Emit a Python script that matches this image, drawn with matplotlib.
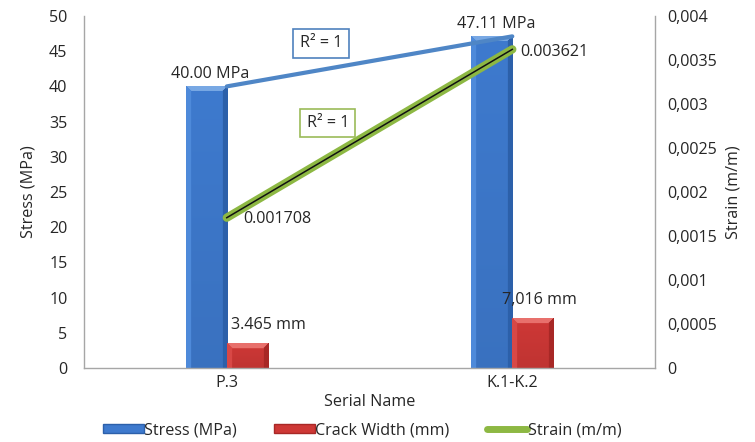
import numpy as np
import matplotlib
matplotlib.use("Agg")
import matplotlib.pyplot as plt
from matplotlib.patches import Patch
from matplotlib.lines import Line2D
from matplotlib.ticker import FuncFormatter, MultipleLocator

# Data
categories = ["P.3", "K.1-K.2"]
stress_mpa = [40.00, 47.11]
crack_width_mm = [3.465, 7.016]
strain = [0.001708, 0.003621]
stress_labels = ["40.00 MPa", "47.11 MPa"]
crack_labels = ["3.465 mm", "7,016 mm"]
strain_labels = ["0.001708", "0.003621"]

plt.rcParams["font.family"] = ["Open Sans", "DejaVu Sans"]
FS = 11.6
TXT = "#262626"
AX = "#A6A6A6"

fig = plt.figure(figsize=(7.55, 4.42), dpi=100)
ax = fig.add_axes([0.1113, 0.1674, 0.7563, 0.7964])
ax2 = ax.twinx()

x = np.arange(len(categories))
w = 0.144

BLUE = dict(base=(62, 122, 206), top=(120, 168, 228), left=(78, 138, 218), right=(44, 96, 170))
RED = dict(base=(206, 56, 54), top=(232, 112, 108), left=(216, 72, 70), right=(168, 40, 38))

blue_bars = ax.bar(x - w / 2, stress_mpa, w, color="#3E7ACE", zorder=2)
red_bars = ax.bar(x + w / 2, crack_width_mm, w, color="#CE3836", zorder=2)

ax.set_xlim(-0.5, 1.5)
ax.set_ylim(0, 50)


def bevel_image(wpx, hpx, pal, bev=5):
    """RGB image of a bar face with a bevelled top, lit left and shaded right."""
    img = np.empty((hpx, wpx, 3), dtype=float)
    img[:] = pal["base"]
    ii, jj = np.mgrid[0:hpx, 0:wpx]
    dl, dr, dt = jj, wpx - 1 - jj, ii
    left = (dl < bev) & (dl <= dt)
    right = (dr < bev) & (dr <= dt)
    top = (dt < bev) & (dt < dl) & (dt < dr)
    img[left] = pal["left"]
    img[right] = pal["right"]
    img[top] = pal["top"]
    face = ~(left | right | top)
    shade = np.broadcast_to(np.linspace(1.0, 0.93, hpx)[:, None], (hpx, wpx))
    img[face] *= shade[face][:, None]
    return np.clip(img / 255.0, 0, 1)


for bars, pal in ((blue_bars, BLUE), (red_bars, RED)):
    for p in bars:
        x0, y0 = p.get_x(), p.get_y()
        x1, y1 = x0 + p.get_width(), y0 + p.get_height()
        (px0, py0), (px1, py1) = ax.transData.transform([(x0, y0), (x1, y1)])
        wpx = max(int(round(px1 - px0)), 2)
        hpx = max(int(round(py1 - py0)), 2)
        ax.imshow(bevel_image(wpx, hpx, pal), aspect="auto", zorder=2.1,
                  extent=(x0, x1, y0, y1), origin="upper", interpolation="bilinear")
ax.set_xlim(-0.5, 1.5)
ax.set_ylim(0, 50)

# Stress trend line across category centres
ax.plot(x, stress_mpa, color="#4F86C6", lw=3, zorder=3, solid_capstyle="round")

ax.yaxis.set_major_locator(MultipleLocator(5))
ax.set_xticks(x)
ax.set_xticklabels(categories)

# Strain on secondary axis
ax2.plot(x, strain, color="#8DB843", lw=6, zorder=4, solid_capstyle="round")
ax2.plot(x, strain, color="#111111", lw=1.1, zorder=5)
ax2.set_ylim(0, 0.004)
ax2.yaxis.set_major_locator(MultipleLocator(0.0005))
ax2.yaxis.set_major_formatter(FuncFormatter(
    lambda v, _: "0" if abs(v) < 1e-12 else f"{v:.4f}".rstrip("0").replace(".", ",")))

for a in (ax, ax2):
    a.spines["top"].set_visible(False)
    for s in ("left", "right", "bottom"):
        a.spines[s].set_color(AX)
        a.spines[s].set_linewidth(1.0)
    a.tick_params(length=0, colors=TXT, labelsize=FS)
    a.set_facecolor("none")
ax.spines["right"].set_visible(False)
ax2.spines["left"].set_visible(False)
ax2.spines["bottom"].set_visible(False)
ax.tick_params(axis="y", pad=12)
ax.tick_params(axis="x", pad=5)
ax2.tick_params(axis="y", pad=9)

ax.set_ylabel("Stress (MPa)", fontsize=FS, color=TXT, labelpad=9)
ax2.set_ylabel("Strain (m/m)", fontsize=FS, color=TXT, labelpad=6)
ax.set_xlabel("Serial Name", fontsize=FS, color=TXT, labelpad=2)

# Value labels
for xi, v, lab in zip(x, stress_mpa, stress_labels):
    ax.annotate(lab, (xi - w / 2, v), xytext=(3, 3), textcoords="offset points",
                ha="center", va="bottom", fontsize=FS, color=TXT, zorder=6)
for xi, v, lab, dx in zip(x, crack_width_mm, crack_labels, (15, 5)):
    ax.annotate(lab, (xi + w / 2, v), xytext=(dx, 8), textcoords="offset points",
                ha="center", va="bottom", fontsize=FS, color=TXT, zorder=6)
for xi, v, lab, off in zip(x, strain, strain_labels, ((12, -1), (6, -2))):
    ax2.annotate(lab, (xi, v), xytext=off, textcoords="offset points",
                 ha="left", va="center", fontsize=FS, color=TXT, zorder=6)

# R² boxes
ax2.text(0.415, 0.923, "R² = 1", transform=ax2.transAxes, ha="center", va="center",
         fontsize=FS, color=TXT, zorder=7,
         bbox=dict(boxstyle="square,pad=0.4", fc="white", ec="#4F81BD", lw=1.2))
ax2.text(0.427, 0.696, "R² = 1", transform=ax2.transAxes, ha="center", va="center",
         fontsize=FS, color=TXT, zorder=7,
         bbox=dict(boxstyle="square,pad=0.4", fc="white", ec="#9BBB59", lw=1.2))

handles = [Patch(facecolor="#3E7ACE", edgecolor="#2C60AA"),
           Patch(facecolor="#CE3836", edgecolor="#A82826"),
           Line2D([0], [0], color="#8DB843", lw=5, solid_capstyle="round")]
fig.legend(handles, ["Stress (MPa)", "Crack Width (mm)", "Strain (m/m)"],
           loc="center", bbox_to_anchor=(0.48, 0.027), ncol=3, frameon=False,
           fontsize=FS, handlelength=2.5, handleheight=0.55, handletextpad=0.05,
           columnspacing=2.3, labelcolor=TXT)

fig.savefig("out.png", dpi=100)
